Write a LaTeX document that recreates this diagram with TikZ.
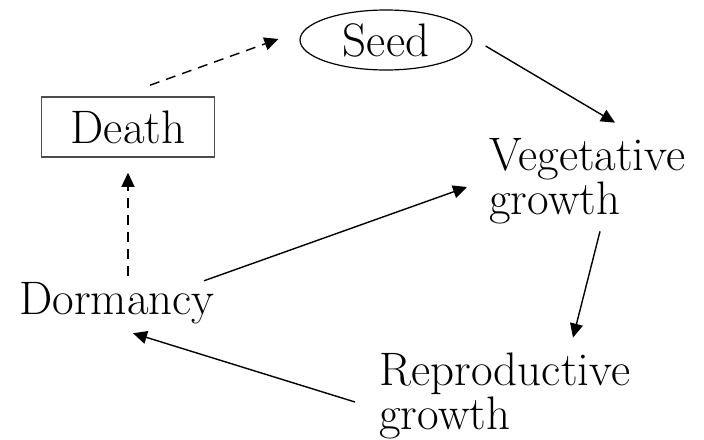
\documentclass[tikz,border=0pt]{standalone}
\usepackage{tikz}
\usetikzlibrary{arrows.meta, shapes.geometric, positioning}

\begin{document}
\begin{tikzpicture} [x=0.5pt, y=-0.5pt,
                stage/.style = {inner sep=0pt, font=\fontsize{23.5}{19.5}\selectfont},
                flow/.style = {-{Triangle[length=7pt, width=6.5pt]}, line width=0.7pt},
                dflow/.style = {flow, dash pattern=on 5pt off 3.5pt}]

            \useasboundingbox (0,0) rectangle (704,439);

            % Seed
            \node (seed) [stage, ellipse, draw, line width=0.6pt,
                minimum width=86pt, minimum height=30pt] at (386,40) {Seed};

            % Death
            \node (death) [stage, rectangle, draw=black!70, line width=0.8pt,
                minimum width=86.5pt, minimum height=30pt] at (128,127) {Death};

            % Vegetative growth
            \node (veg) [stage, anchor=west, align=left] at (489,181)
                {Vegetative\\growth};

            % Reproductive growth
            \node (repro) [stage, anchor=west, align=left] at (379,396)
                {Reproductive\\growth};

            % Dormancy
            \node (dorm) [stage] at (117,303) {Dormancy};

            % Arrows
            \draw [dflow] ([shift={(22,-11)}]death.north) -- ([shift={(-21,-1)}]seed.west);
            \draw [flow] ([shift={(13,6)}]seed.east) -- ([shift={(126,-15)}]veg.north west);
            \draw [flow] ([shift={(111,7)}]veg.south west) -- ([shift={(194,-15)}]repro.north west);
            \draw [flow] ([shift={(-24,6)}]repro.west) -- ([shift={(16,9)}]dorm.south);
            \draw [flow] ([shift={(-11,-1)}]dorm.north east) -- ([shift={(-22,6)}]veg.west);
            \draw [dflow] ([shift={(11,-6)}]dorm.north) -- ([shift={(0,15)}]death.south);
\end{tikzpicture}
\end{document}
